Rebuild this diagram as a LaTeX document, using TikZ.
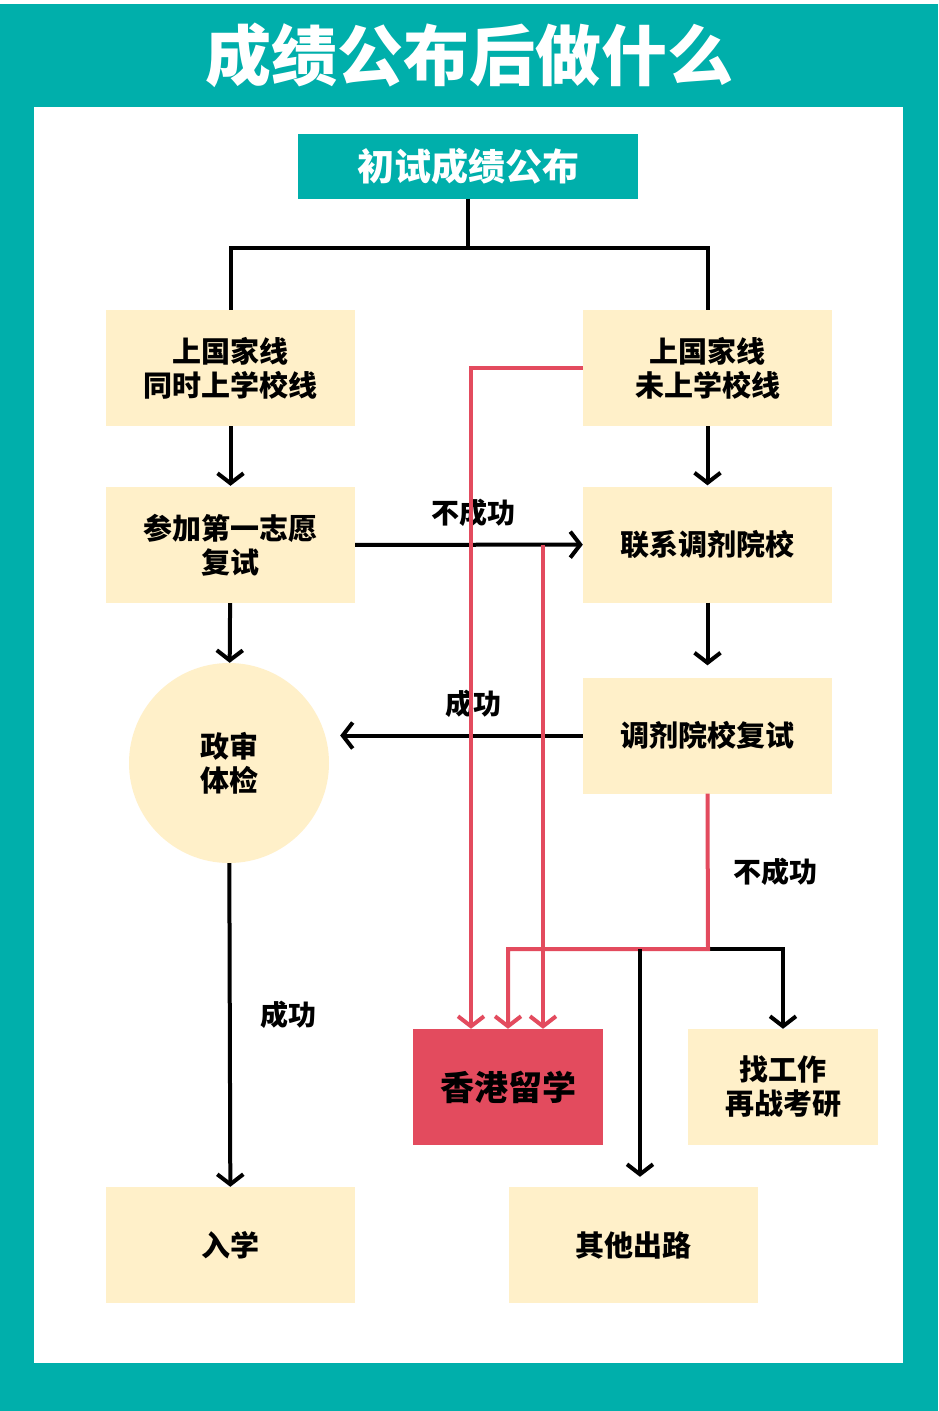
\documentclass[tikz,border=0pt]{standalone}
\usepackage{fontspec}
\setmainfont{Noto Sans CJK SC}
\usepackage{tikz}
\usetikzlibrary{arrows,arrows.meta,positioning}

\definecolor{tealbg}{RGB}{0,175,171}
\definecolor{cream}{RGB}{255,240,201}
\definecolor{hkred}{RGB}{227,75,94}

\tikzset{
	box/.style={fill=cream, minimum width=249pt, minimum height=116pt, inner sep=0pt, align=center,
		font=\bfseries\fontsize{29}{34}\selectfont},
	small box/.style={box, minimum width=190pt},
	conn/.style={line width=4pt},
	redconn/.style={line width=4pt, hkred},
	lbl/.style={font=\bfseries\fontsize{28}{32}\selectfont}
}

\begin{document}
\begin{tikzpicture}[x=1pt, y=-1pt, >={Straight Barb[length=10pt, width=26pt, line width=4pt]}]
	\useasboundingbox (0,0) rectangle (938,1411);
	\fill[tealbg] (0,4) rectangle (938,1411);
	\fill[white] (34,107) rectangle (903,1363);
	\node[text=white, font=\bfseries\fontsize{66}{66}\selectfont] (title) at (469,55) {成绩公布后做什么};

	\node[fill=tealbg, text=white, minimum width=340pt, minimum height=65pt, inner sep=0pt,
		font=\bfseries\fontsize{37}{37}\selectfont] (pub) at (468,166) {初试成绩公布};
	\node[box] (both)    at (230.5,368) {上国家线\\同时上学校线};
	\node[box] (natonly) at (707.5,368) {上国家线\\未上学校线};
	\node[box] (first)   at (230.5,545) {参加第一志愿\\复试};
	\node[box] (contact) at (707.5,544.5) {联系调剂院校};
	\node[box] (adjust)  at (707.5,735.5) {调剂院校复试};
	\node[circle, fill=cream, minimum size=200pt, inner sep=0pt, align=center,
		font=\bfseries\fontsize{29}{34}\selectfont] (check) at (229,763) {政审\\体检};
	\node[box] (enrol)   at (230.5,1245) {入学};
	\node[box] (other)   at (633.5,1245) {其他出路};
	\node[small box, fill=hkred, font=\bfseries\fontsize{34}{34}\selectfont] (hk) at (508,1087) {香港留学};
	\node[small box] (job) at (783,1087) {找工作\\再战考研};

	\coordinate (split) at (468,248);
	\coordinate (fork) at (708,949);
	\coordinate (branch) at (640,949);

	\draw[conn] (pub) -- (split);
	\draw[conn] (both.north) |- (split) -| (natonly.north);
	\path[->, conn]
	(both) edge[shorten >=1pt] (first)
	(natonly) edge[shorten >=1pt] (contact)
	(first) edge node[lbl, pos=0.52, above=13pt]{不成功} (contact)
	(first) edge (check)
	(contact) edge[shorten >=12pt] (adjust)
	(adjust.west) edge[shorten >=11pt] node[lbl, pos=0.43, above=13pt]{成功} (adjust.west -| check.east)
	(check) edge node[lbl, pos=0.47, right=25pt]{成功} (enrol);
	\draw[conn, ->] (fork) -- (fork -| job.north) -- (job.north);

	% red routes to hk
	\draw[redconn, ->] (natonly.west) -| ([xshift=-37pt]hk.north);
	\draw[redconn, ->] ([xshift=35pt]hk.north |- first.east) -- ([xshift=35pt]hk.north);
	\draw[redconn, ->] (adjust.south) -- node[lbl, right=20pt, text=black]{不成功} (fork) -| (hk.north);
	\draw[conn, ->, shorten >=10pt] (branch) -- (branch |- other.north);
\end{tikzpicture}
\end{document}
